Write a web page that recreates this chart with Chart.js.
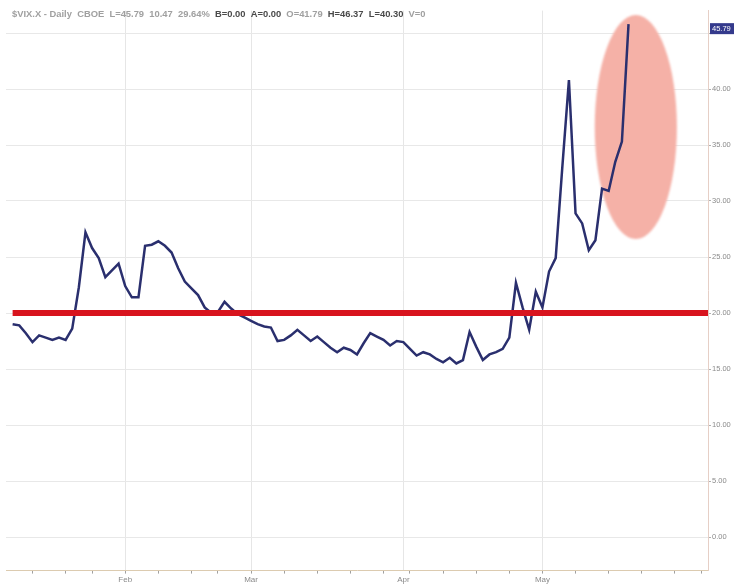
<!DOCTYPE html>
<html>
<head>
<meta charset="utf-8">
<script src="https://cdn.jsdelivr.net/npm/chart.js@4"></script>
<style>
  html, body { margin: 0; padding: 0; background: #fff; }
  canvas { display: block; }
</style>
</head>
<body>
<canvas id="vix" width="734" height="588"></canvas>
<script>
// trading days shown on the x axis (2010)
const janDays = [5, 6, 7, 8, 11, 12, 13, 14, 15, 19, 20, 21, 22, 25, 26, 27, 28, 29];
const febDays = [1, 2, 3, 4, 5, 8, 9, 10, 11, 12, 16, 17, 18, 19, 22, 23, 24, 25, 26];
const marDays = [1, 2, 3, 4, 5, 8, 9, 10, 11, 12, 15, 16, 17, 18, 19, 22, 23, 24, 25, 26, 29, 30, 31];
const aprDays = [1, 5, 6, 7, 8, 9, 12, 13, 14, 15, 16, 19, 20, 21, 22, 23, 26, 27, 28, 29, 30];
const mayDays = [3, 4, 5, 6, 7, 10, 11, 12, 13, 14, 17, 18, 19, 20, 21, 24, 25, 26, 27, 28];
const junDays = [1, 2, 3, 4, 7, 8];
const monthNames = ['Jan', 'Feb', 'Mar', 'Apr', 'May', 'Jun'];
const labelledMonths = ['Feb', 'Mar', 'Apr', 'May'];

// daily closes (first label has no value)
const vixClose = [
  null,
  19.0, 18.9, 18.2, 17.4, 18.0, 17.8, 17.6, 17.8, 17.6, 18.6, 22.3, 27.2, 25.8, 24.9, 23.2, 23.8, 24.4,
  22.4, 21.4, 21.4, 26.0, 26.1, 26.4, 26.0, 25.4, 24.0, 22.8, 22.2, 21.6, 20.5, 20.0, 20.1, 21.0, 20.4, 19.9, 19.6,
  19.3, 19.0, 18.8, 18.7, 17.5, 17.6, 18.0, 18.5, 18.0, 17.5, 17.9, 17.4, 16.9, 16.5, 16.9, 16.7, 16.3, 17.3, 18.2, 17.9, 17.6, 17.1, 17.5,
  17.4, 16.8, 16.2, 16.5, 16.3, 15.9, 15.6, 16.0, 15.5, 15.8, 18.3, 17.0, 15.8, 16.3, 16.5, 16.8, 17.8, 22.7, 20.5, 18.5, 21.9,
  20.5, 23.7, 24.9, 33.0, 40.8, 28.9, 28.0, 25.6, 26.5, 31.1, 30.9, 33.5, 35.3, 45.79
];
const supportLevel = 20;
const yTicks = [0, 5, 10, 15, 20, 25, 30, 35, 40, 45];
const headerParts = [
  ['$VIX.X - Daily  CBOE  L=45.79  10.47  29.64%  ', '#a0a0a0'],
  ['B=0.00  A=0.00  ', '#4a4a4a'],
  ['O=41.79  ', '#a0a0a0'],
  ['H=46.37  L=40.30  ', '#4a4a4a'],
  ['V=0', '#a0a0a0']
];

const dayLists = [janDays, febDays, marDays, aprDays, mayDays, junDays];
const dates = [];
dayLists.forEach((days, m) => days.forEach(d => dates.push(new Date(2010, m, d))));
const labels = dates.map(d => d.toISOString().slice(0, 10));
const monthStart = dates.map((d, i) =>
  i > 0 && d.getMonth() !== dates[i - 1].getMonth() && labelledMonths.includes(monthNames[d.getMonth()]));
const weekStart = dates.map((d, i) => i > 0 && d.getDay() < dates[i - 1].getDay());
const lastIdx = vixClose.length - 1;

Chart.defaults.font.family = "'Liberation Sans', Arial, sans-serif";

const decorations = {
  id: 'decorations',
  beforeDatasetsDraw(chart) {
    // highlight ellipse around the final run-up
    const { ctx, scales: { x, y } } = chart;
    const cx = x.getPixelForValue(95.1);
    const cy = y.getPixelForValue(36.6);
    const rx = x.getPixelForValue(101.3) - cx;
    const ry = y.getPixelForValue(26.6) - cy;
    ctx.save();
    ctx.fillStyle = '#f5b1a7';
    ctx.filter = 'blur(1px)';
    ctx.beginPath();
    ctx.ellipse(cx, cy, rx, ry, 0, 0, Math.PI * 2);
    ctx.fill();
    ctx.restore();
  },
  afterDraw(chart) {
    const { ctx, scales: { y }, chartArea } = chart;
    ctx.save();
    // header line
    ctx.font = "bold 9.4px 'Liberation Sans', Arial, sans-serif";
    ctx.textBaseline = 'middle';
    let hx = 12;
    headerParts.forEach(([t, c]) => {
      ctx.fillStyle = c;
      ctx.fillText(t, hx, 14);
      hx += ctx.measureText(t).width;
    });
    // last value marker on the axis
    const last = vixClose[lastIdx];
    const py = y.getPixelForValue(last) + 4;
    ctx.fillStyle = '#343a8c';
    ctx.fillRect(chartArea.right + 2, py - 5, 26, 11);
    ctx.fillStyle = '#fff';
    ctx.font = "7.5px 'Liberation Sans', Arial, sans-serif";
    ctx.fillText(last.toFixed(2), chartArea.right + 4, py + 0.5);
    ctx.restore();
  }
};

new Chart('vix', {
  type: 'line',
  data: {
    labels: labels,
    datasets: [
      {
        label: 'Support',
        data: labels.map((_, i) => (i === 0 ? null : supportLevel)),
        borderColor: '#d8141e',
        borderWidth: 6,
        pointRadius: 0,
        order: 0
      },
      {
        label: '$VIX.X',
        data: vixClose,
        borderColor: '#2a2f6e',
        borderWidth: 2.5,
        pointRadius: 0,
        tension: 0,
        order: 1
      }
    ]
  },
  plugins: [decorations],
  options: {
    responsive: false,
    animation: false,
    devicePixelRatio: 1,
    layout: { padding: { top: 10.6, left: 6, right: 0, bottom: 0 } },
    plugins: {
      legend: { display: false },
      tooltip: { enabled: false }
    },
    scales: {
      x: {
        type: 'category',
        afterFit(scale) { scale.height = 17.4; },
        border: { color: '#dccbb0', width: 1 },
        grid: {
          color: ctx => (monthStart[ctx.index] ? '#e6e6e6' : 'rgba(0,0,0,0)'),
          tickColor: ctx => (weekStart[ctx.index] ? '#a0a0a0' : 'rgba(0,0,0,0)'),
          tickLength: 3
        },
        ticks: {
          autoSkip: false,
          maxRotation: 0,
          padding: 1,
          color: '#8a8a8a',
          font: { size: 8 },
          callback: (v, i) => (monthStart[i] ? monthNames[dates[i].getMonth()] : '')
        }
      },
      y: {
        position: 'right',
        min: -3,
        max: 47,
        afterFit(scale) { scale.width = 26; },
        afterBuildTicks(scale) { scale.ticks = yTicks.map(v => ({ value: v })); },
        border: { color: '#e6cfc6', width: 1 },
        grid: { color: '#e8e8e8', tickColor: '#b0b0b0', tickLength: 3 },
        ticks: {
          padding: 1,
          color: '#8a8a8a',
          font: { size: 7.5 },
          callback: v => (v < 45 ? v.toFixed(2) : '')
        }
      }
    }
  }
});
</script>
</body>
</html>
